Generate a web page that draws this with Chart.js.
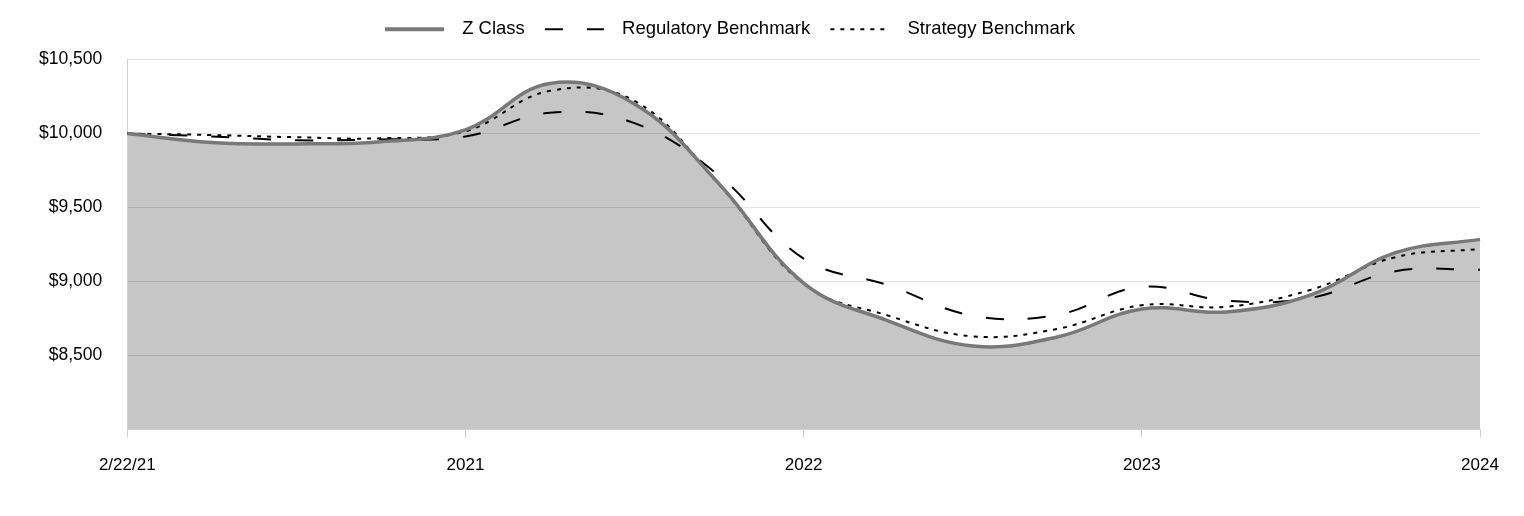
<!DOCTYPE html>
<html>
<head>
<meta charset="utf-8">
<script src="https://cdn.jsdelivr.net/npm/chart.js@4"></script>
<style>
  html, body { margin: 0; padding: 0; background: #fff; }
  #wrap { width: 1524px; height: 516px; position: relative; }
</style>
</head>
<body>
<div id="wrap"><canvas id="myChart"></canvas></div>
<script>
// quarterly points, only every 4th one carries a tick label
const periods = ['2/22/21', '', '', '', '2021', '', '', '', '2022', '', '', '', '2023', '', '', '', '2024'];
const zClass = [10000, 9940, 9930, 9945, 10025, 10338, 10200, 9660, 8990, 8735, 8565, 8625, 8815, 8795, 8910, 9195, 9285];
const regulatory = [10000, 9980, 9955, 9960, 9980, 10140, 10070, 9715, 9155, 8975, 8770, 8775, 8965, 8870, 8890, 9070, 9080];
const strategy = [10000, 9990, 9975, 9968, 10015, 10288, 10220, 9655, 8985, 8770, 8630, 8680, 8840, 8830, 8945, 9165, 9220];
const seriesNames = ['Z Class', 'Regulatory Benchmark', 'Strategy Benchmark'];

Chart.defaults.font.family = "'Liberation Sans', Arial, sans-serif";
Chart.defaults.color = '#000';

// little line images for the legend (line + spacing before the text)
function legendLine(dash, color, lw) {
  const c = document.createElement('canvas');
  c.width = 76;
  c.height = 10;
  const g = c.getContext('2d');
  g.strokeStyle = color;
  g.lineWidth = lw;
  g.setLineDash(dash);
  g.beginPath();
  g.moveTo(8, 5);
  g.lineTo(67, 5);
  g.stroke();
  return c;
}
const legendIcons = [
  legendLine([], '#787878', 4),
  legendLine([18, 24], '#000', 2),
  legendLine([4, 6], '#000', 2),
];

const legendNudge = {
  id: 'legendNudge',
  beforeLayout(chart) {
    const lg = chart.legend;
    if (lg && !lg._nudged) {
      const fit = lg.fit.bind(lg);
      lg.fit = function () { fit(); this.height += 11; };
      lg._nudged = true;
    }
  },
  afterLayout(chart) {
    chart.legend.left -= 42;
  },
};

const ctx = document.getElementById('myChart').getContext('2d');
const myChart = new Chart(ctx, {
  type: 'line',
  data: {
    labels: periods,
    datasets: [
      {
        label: seriesNames[0],
        data: zClass,
        borderColor: '#787878',
        backgroundColor: '#c6c6c6',
        borderWidth: 3.5,
        fill: 'start',
        pointRadius: 0,
        tension: 0.4,
      },
      {
        label: seriesNames[1],
        data: regulatory,
        borderColor: '#000',
        borderWidth: 2,
        borderDash: [18, 24],
        fill: false,
        pointRadius: 0,
        tension: 0.4,
      },
      {
        label: seriesNames[2],
        data: strategy,
        borderColor: '#000',
        borderWidth: 2,
        borderDash: [4, 6],
        fill: false,
        pointRadius: 0,
        tension: 0.4,
      },
    ],
  },
  options: {
    responsive: true,
    maintainAspectRatio: false,
    animation: false,
    layout: { padding: { top: 8, left: 14, right: 44, bottom: 22 } },
    plugins: {
      filler: { drawTime: 'beforeDraw' },
      tooltip: { enabled: false },
      legend: {
        position: 'top',
        labels: {
          usePointStyle: true,
          pointStyleWidth: 76,
          padding: 12,
          color: '#000',
          font: { size: 18.5 },
          generateLabels(chart) {
            const items = Chart.defaults.plugins.legend.labels.generateLabels(chart);
            items.forEach((it, i) => { it.pointStyle = legendIcons[i]; });
            return items;
          },
        },
      },
    },
    scales: {
      x: {
        ticks: { autoSkip: false, maxRotation: 0, padding: 18, color: '#000', font: { size: 17 } },
        grid: {
          drawOnChartArea: false,
          tickLength: 8,
          color: (c) => (c.index % 4 === 0 ? '#d0d0d0' : 'rgba(0,0,0,0)'),
        },
        border: { color: '#d0d0d0' },
      },
      y: {
        min: 8000,
        max: 10500,
        ticks: {
          stepSize: 500,
          padding: 25,
          color: '#000',
          font: { size: 17.5 },
          callback: (v) => (v === 8000 ? '' : '$' + v.toLocaleString('en-US')),
        },
        grid: { color: 'rgba(0,0,0,0.1)', drawTicks: false },
        border: { color: '#d0d0d0' },
      },
    },
  },
  plugins: [legendNudge],
});
</script>
</body>
</html>
